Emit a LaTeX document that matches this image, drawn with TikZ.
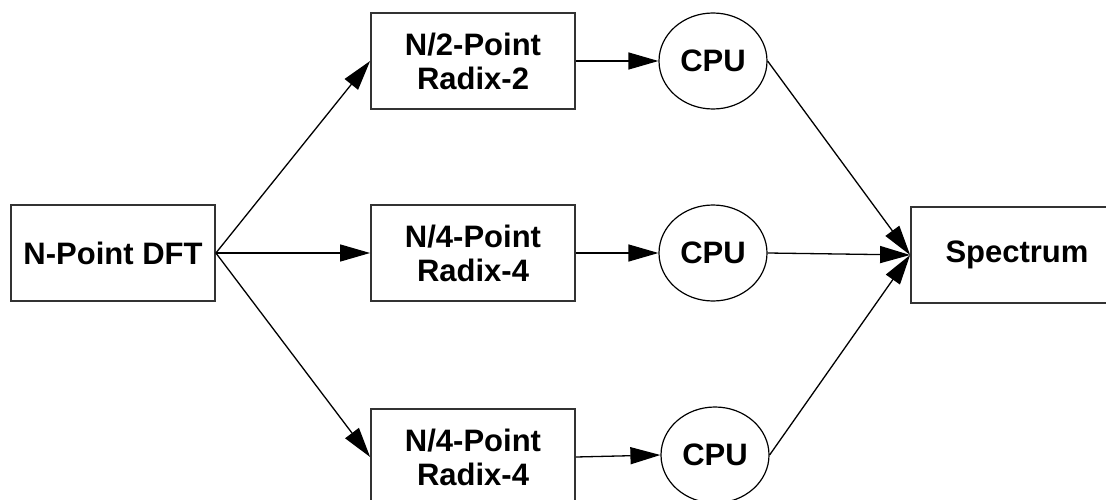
\documentclass[tikz,border=0pt]{standalone}
\usepackage{fontspec}
\setmainfont{Liberation Sans}
\usetikzlibrary{arrows.meta,shapes.geometric}
\begin{document}
\begin{tikzpicture}[x=1pt,y=-1pt,
  box/.style={draw=black!80,line width=1.8pt,rectangle,minimum width=204pt,minimum height=96pt,inner sep=0pt,align=center,font=\fontsize{31}{34}\selectfont\bfseries},
  cpu/.style={draw=black,line width=1.2pt,ellipse,minimum width=108pt,minimum height=96pt,inner sep=0pt,font=\fontsize{31}{34}\selectfont\bfseries},
  conn/.style={line width=1.3pt,-{Triangle[length=30pt,width=17pt]}}]
\useasboundingbox (0,0) rectangle (1106,500);
\clip (0,0) rectangle (1106,500);
\node[box] (dft) at (113,253) {N-Point DFT};
\node[box] (r2) at (473,61) {N/2-Point\\Radix-2};
\node[box] (r4a) at (473,253) {N/4-Point\\Radix-4};
\node[box] (r4b) at (473,457) {N/4-Point\\Radix-4};
\node[cpu] (c1) at (713,61) {CPU};
\node[cpu] (c2) at (713,253) {CPU};
\node[cpu] (c3) at (715,455) {CPU};
\node[box,minimum width=212pt] (sp) at (1017,255) {Spectrum};
\draw[conn] (dft.east) -- (r2.west);
\draw[conn] (dft.east) -- (r4a.west);
\draw[conn] (dft.east) -- (r4b.west);
\draw[conn] (r2.east) -- (c1.west);
\draw[conn] (r4a.east) -- (c2.west);
\draw[conn] (r4b.east) -- (c3.west);
\draw[conn] (c1.east) -- (sp.west);
\draw[conn] (c2.east) -- (sp.west);
\draw[conn] (c3.east) -- (sp.west);
\end{tikzpicture}
\end{document}
